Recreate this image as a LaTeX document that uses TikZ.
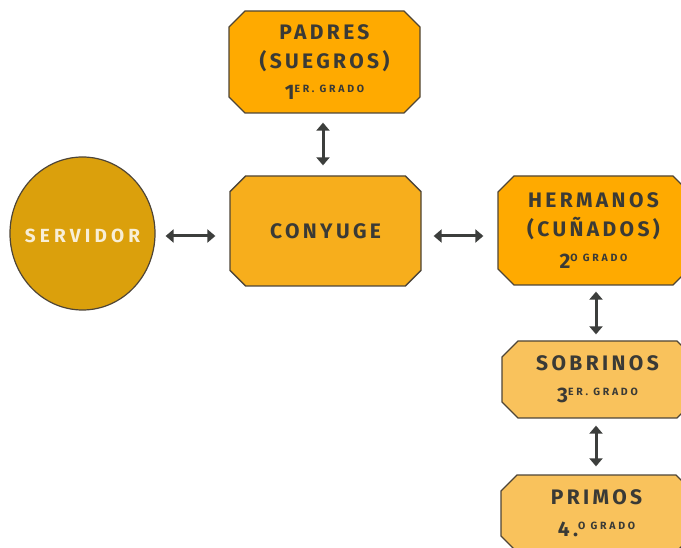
\documentclass[tikz,border=0pt]{standalone}
\usepackage{fontspec}
\setmainfont{Fira Sans}
\newfontfamily\din[LetterSpace=16]{Fira Sans}
\newfontfamily\dinsm[LetterSpace=26]{Fira Sans}
\usetikzlibrary{shapes.misc,shapes.geometric,arrows.meta}
\definecolor{boxA}{HTML}{FFAA00}
\definecolor{boxB}{HTML}{F7AE1C}
\definecolor{boxC}{HTML}{F9C25C}
\definecolor{circ}{HTML}{DBA00C}
\definecolor{edge}{HTML}{4E4537}
\definecolor{txt}{HTML}{3A3A36}
\definecolor{arrc}{HTML}{3C3E3C}
\definecolor{cream}{HTML}{F8EED6}
\newcommand{\bignum}[1]{{\fontsize{21}{21}\selectfont #1}}
\newcommand{\smsup}[1]{\raisebox{7pt}{\dinsm\bfseries\fontsize{10.5}{10.5}\selectfont #1}}
\tikzset{
  box/.style={chamfered rectangle, chamfered rectangle xsep=8pt, chamfered rectangle ysep=8pt,
    draw=edge, line width=1.3pt, minimum width=191pt, inner sep=0pt, align=center,
    text=txt, font=\din\bfseries\fontsize{21}{29}\selectfont},
  arr/.style={{Triangle[length=8pt,width=13pt]}-{Triangle[length=8pt,width=13pt]}, line width=3pt, draw=arrc}
}
\begin{document}
\begin{tikzpicture}[x=1pt,y=-1pt]
\useasboundingbox (0,0) rectangle (681,548);
\node[box, fill=boxA, minimum height=102pt] (padres) at (324.5,62) {PADRES\\(SUEGROS)\\[2pt]\bignum{1}\smsup{ER. GRADO}};
\node[box, fill=boxB, minimum height=110pt] (conyuge) at (325.5,231) {CONYUGE};
\node[box, fill=boxA, minimum height=109pt] (hermanos) at (593.5,230.5) {HERMANOS\\(CUÑADOS)\\[3pt]\bignum{2}\smsup{O GRADO}};
\node[box, fill=boxC, minimum height=77pt] (sobrinos) at (597.5,379.5) {SOBRINOS\\[3pt]\bignum{3}\smsup{ER. GRADO}};
\node[box, fill=boxC, minimum height=77pt] (primos) at (596.5,513.5) {PRIMOS\\[3pt]\bignum{4.}\smsup{O GRADO}};
\node[ellipse, draw=edge, line width=1.2pt, fill=circ, minimum width=145pt, minimum height=153pt, inner sep=0pt,
  label={[text=cream, font=\din\bfseries\fontsize{19}{19}\selectfont\addfontfeature{LetterSpace=22}, yshift=-2pt]center:SERVIDOR}] (servidor) at (82.5,233.5) {};
\draw[arr, shorten <=10pt, shorten >=14pt] (servidor.east |- 0,236) -- (conyuge.west |- 0,236);
\draw[arr, shorten <=9pt, shorten >=10pt] (padres.south -| 323,0) -- (conyuge.north -| 323,0);
\draw[arr, shorten <=12pt, shorten >=14pt] (conyuge.east |- 0,236) -- (hermanos.west |- 0,236);
\draw[arr, shorten <=6pt, shorten >=6pt] (hermanos.south -| 596,0) -- (sobrinos.north -| 596,0);
\draw[arr, shorten <=7pt, shorten >=8pt] (sobrinos.south -| 596,0) -- (primos.north -| 596,0);
\end{tikzpicture}
\end{document}
